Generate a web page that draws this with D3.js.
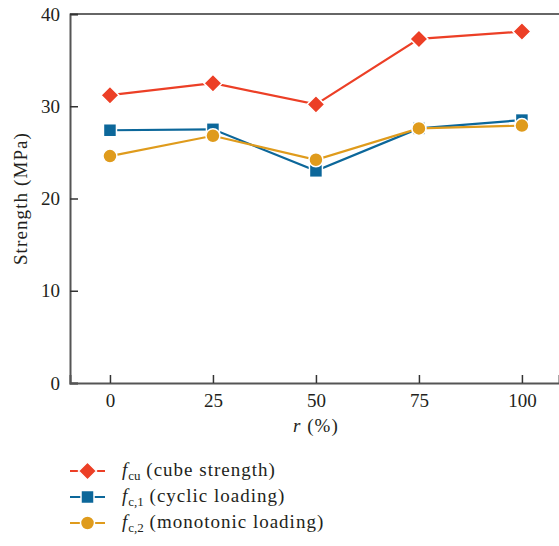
<!DOCTYPE html>
<html>
<head>
<meta charset="utf-8">
<script src="https://cdn.jsdelivr.net/npm/d3@7"></script>
<style>
  body { margin: 0; background: #fff; }
  text { font-family: "Liberation Serif", "DejaVu Serif", serif; fill: #231f20; }
</style>
</head>
<body>
<svg id="chart" width="559" height="546"></svg>
<script>
// values
var ratios = [0, 25, 50, 75, 100];
var fcu = [31.2, 32.5, 30.2, 37.3, 38.1];
var fc1 = [27.4, 27.5, 23.0, 27.6, 28.5];
var fc2 = [24.6, 26.8, 24.2, 27.6, 27.9];
var yTicks = [0, 10, 20, 30, 40];

var series = [
  {name: "cu", label: " (cube strength)", vals: fcu, color: "#ec3f26", shape: "diamond"},
  {name: "c,1", label: " (cyclic loading)", vals: fc1, color: "#0c679a", shape: "square"},
  {name: "c,2", label: " (monotonic loading)", vals: fc2, color: "#df9b1c", shape: "circle"}
];
var markSize = {diamond: 18, square: 13, circle: 14};

var svg = d3.select("#chart");
var mLeft = 70, mTop = 14, mBottom = 383;

var x = d3.scaleLinear().domain([-9.7, 109]).range([mLeft, 559]);
var y = d3.scaleLinear().domain([0, 40]).range([mBottom, mTop]);

// frame
svg.append("line").attr("x1", mLeft).attr("x2", 559).attr("y1", mTop).attr("y2", mTop)
   .attr("stroke", "#666").attr("stroke-width", 2);

var yAxis = svg.append("g").attr("transform", "translate(" + mLeft + ",0)")
   .call(d3.axisLeft(y).tickValues(yTicks).tickSize(-8).tickPadding(10));
var xAxis = svg.append("g").attr("transform", "translate(0," + mBottom + ")")
   .call(d3.axisBottom(x).tickValues(ratios).tickSize(-8).tickPadding(11));

[yAxis, xAxis].forEach(function(g){
  g.select(".domain").attr("stroke", "#555").attr("stroke-width", 2);
  g.selectAll(".tick line").attr("stroke", "#333").attr("stroke-width", 1.5);
  g.selectAll(".tick text").style("font-size", "19px").attr("fill", "#231f20")
   .style("font-family", "'Liberation Serif', serif");
});

svg.append("text").attr("transform", "translate(27," + y(20) + ") rotate(-90)")
   .attr("text-anchor", "middle").style("font-size", "19px").style("letter-spacing", "1.1px")
   .text("Strength (MPa)");

var xl = svg.append("text").attr("x", x(50)).attr("y", 432).attr("text-anchor", "middle")
   .style("font-size", "19px").style("letter-spacing", "1px");
xl.append("tspan").style("font-style", "italic").text("r");
xl.append("tspan").text(" (%)");

function drawMarker(g, shape, color, cx, cy, s) {
  if (shape == "diamond")
    g.append("path").attr("d", "M0," + (-s/2) + "L" + (s/2) + ",0L0," + (s/2) + "L" + (-s/2) + ",0Z")
     .attr("transform", "translate(" + cx + "," + cy + ")");
  else if (shape == "square")
    g.append("rect").attr("x", cx - s/2).attr("y", cy - s/2).attr("width", s).attr("height", s);
  else
    g.append("circle").attr("cx", cx).attr("cy", cy).attr("r", s/2);
  g.selectAll("*").attr("fill", color).attr("stroke", "#fff").attr("stroke-width", 1.5);
}

var line = d3.line().x(function(d, i){ return x(ratios[i]); }).y(function(d){ return y(d); });

series.forEach(function(s){
  svg.append("path").datum(s.vals).attr("d", line)
     .attr("fill", "none").attr("stroke", s.color).attr("stroke-width", 2.2);
});
series.forEach(function(s){
  s.vals.forEach(function(v, i){
    drawMarker(svg.append("g"), s.shape, s.color, x(ratios[i]), y(v), markSize[s.shape]);
  });
});

// legend
series.forEach(function(s, i){
  var ly = 471 + i * 26;
  svg.append("line").attr("x1", 70).attr("x2", 105).attr("y1", ly).attr("y2", ly)
     .attr("stroke", s.color).attr("stroke-width", 2.2);
  drawMarker(svg.append("g"), s.shape, s.color, 87.5, ly, markSize[s.shape]);
  var t = svg.append("text").attr("x", 122).attr("y", ly + 5).style("font-size", "19px")
     .style("letter-spacing", "1px");
  t.append("tspan").style("font-style", "italic").text("f");
  t.append("tspan").attr("dy", 4).style("font-size", "13px").style("letter-spacing", "0px").text(s.name);
  t.append("tspan").attr("dy", -4).text(s.label);
});
</script>
</body>
</html>
